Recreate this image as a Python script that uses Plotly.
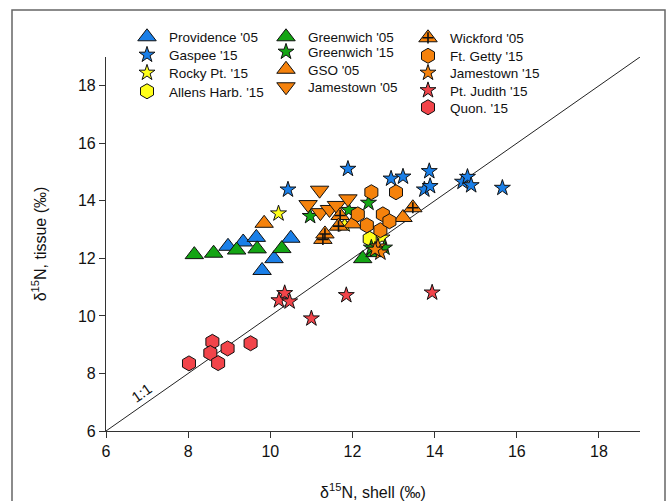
import plotly.graph_objects as go

# ---------------- data ----------------
providence05_x = [8.97, 9.34, 9.66, 9.80, 10.09, 10.50]
providence05_y = [12.42, 12.57, 12.73, 11.58, 11.99, 12.70]

gaspee15_x = [10.43, 11.89, 12.94, 13.23, 13.87, 13.75, 13.89, 14.68, 14.80, 14.89, 15.65]
gaspee15_y = [14.39, 15.11, 14.77, 14.84, 15.03, 14.39, 14.51, 14.66, 14.83, 14.54, 14.45]

rockypt15_x = [10.20, 11.81, 12.72]
rockypt15_y = [13.56, 13.18, 12.72]

allens15_x = [12.42]
allens15_y = [12.68]

greenwich05_x = [8.15, 8.62, 9.18, 9.68, 10.28, 12.25, 12.55]
greenwich05_y = [12.13, 12.18, 12.29, 12.33, 12.34, 11.99, 12.20]

greenwich15_x = [10.97, 11.91, 12.39, 12.46, 12.78]
greenwich15_y = [13.47, 13.68, 13.93, 12.37, 12.37]

gso05_x = [9.85, 12.00, 13.23]
gso05_y = [13.22, 13.20, 13.42]

jamestown05_x = [11.20, 10.92, 11.22, 11.44, 11.61, 11.89]
jamestown05_y = [14.37, 13.87, 13.59, 13.70, 13.84, 14.07]

wickford05_x = [11.70, 11.66, 11.28, 11.33, 13.47]
wickford05_y = [13.49, 13.12, 12.66, 12.85, 13.76]

ftgetty15_x = [12.46, 13.06, 12.13, 12.74, 12.35, 12.68, 12.90]
ftgetty15_y = [14.30, 14.30, 13.53, 13.53, 13.15, 12.98, 13.29]

jamestown15_x = [12.62, 12.68, 12.55]
jamestown15_y = [12.41, 12.20, 12.30]

ptjudith15_x = [10.35, 10.21, 10.47, 11.00, 11.85, 13.94]
ptjudith15_y = [10.79, 10.54, 10.50, 9.91, 10.72, 10.81]

quon15_x = [8.02, 8.59, 8.54, 8.73, 8.96, 9.52]
quon15_y = [8.35, 9.10, 8.71, 8.36, 8.87, 9.05]

one_to_one = [6, 19]
x_ticks = [6, 8, 10, 12, 14, 16, 18]
y_ticks = [6, 8, 10, 12, 14, 16, 18]

# ---------------- style ----------------
BLUE = "#1a7fe8"
GREEN = "#14a514"
ORANGE = "#f5820c"
YELLOW = "#ffff1a"
RED = "#f2444a"
FONT = "Liberation Sans, Arial, sans-serif"

W, H = 667, 501
ML, MR, MT, MB = 106, 27, 57, 70
PW, PH = W - ML - MR, H - MT - MB


def px_x(px):
    return (px - ML) / PW


def px_y(py):
    return (H - MB - py) / PH


SIZE = {"triangle-up": 16, "triangle-down": 16, "star": 12, "hexagon": 15, "cross-thin": 8}

fig = go.Figure()

# 1:1 line
fig.add_trace(go.Scatter(x=one_to_one, y=one_to_one, mode="lines",
                         line=dict(color="#222", width=1), showlegend=False,
                         hoverinfo="skip"))

# (name, x, y, symbol, color, legend px x of symbol, legend px y)
series = [
    ("Providence '05", providence05_x, providence05_y, "triangle-up", BLUE, 145, 37),
    ("Gaspee '15", gaspee15_x, gaspee15_y, "star", BLUE, 145, 55),
    ("Rocky Pt. '15", rockypt15_x, rockypt15_y, "star", YELLOW, 145, 73),
    ("Allens Harb. '15", allens15_x, allens15_y, "hexagon", YELLOW, 145, 91.5),
    ("Greenwich '05", greenwich05_x, greenwich05_y, "triangle-up", GREEN, 284, 37),
    ("Greenwich '15", greenwich15_x, greenwich15_y, "star", GREEN, 284, 52),
    ("GSO '05", gso05_x, gso05_y, "triangle-up", ORANGE, 284, 69.5),
    ("Jamestown '05", jamestown05_x, jamestown05_y, "triangle-down", ORANGE, 284, 87),
    ("Wickford '05", wickford05_x, wickford05_y, "triangle-up", ORANGE, 426, 38),
    ("Ft. Getty '15", ftgetty15_x, ftgetty15_y, "hexagon", ORANGE, 426, 56),
    ("Jamestown '15", jamestown15_x, jamestown15_y, "star", ORANGE, 426, 73),
    ("Pt. Judith '15", ptjudith15_x, ptjudith15_y, "star", RED, 426, 90.5),
    ("Quon. '15", quon15_x, quon15_y, "hexagon", RED, 426, 107.5),
]

legends = {}
n = 0
SYM_OFF = 20  # distance from legend left edge to symbol centre


def new_legend(sx, sy):
    global n
    n += 1
    key = "legend" if n == 1 else f"legend{n}"
    legends[key] = dict(
        x=px_x(sx - SYM_OFF), y=px_y(sy), xanchor="left", yanchor="middle",
        bgcolor="rgba(0,0,0,0)", borderwidth=0,
        font=dict(family=FONT, size=13.5, color="#111"),
        itemsizing="trace", itemwidth=34,
    )
    return key


for name, xs, ys, sym, col, lx, ly in series:
    key = new_legend(lx, ly)
    fig.add_trace(go.Scatter(
        x=xs, y=ys, mode="markers", name=name, legend=key,
        marker=dict(symbol=sym, size=SIZE[sym], color=col,
                    line=dict(color="#111", width=1)),
    ))
    if name == "Wickford '05":
        key2 = new_legend(lx, ly)
        fig.add_trace(go.Scatter(
            x=xs, y=ys, mode="markers", name=" ", legend=key2,
            marker=dict(symbol="cross-thin", size=SIZE["cross-thin"],
                        color="#111", line=dict(color="#111", width=1.6)),
        ))

fig.update_layout(**legends)

axis_common = dict(
    showline=True, linecolor="#333", linewidth=1.2, mirror=False,
    ticks="outside", ticklen=6, tickwidth=1, tickcolor="#333",
    showgrid=False, zeroline=False, automargin=False,
    tickfont=dict(family=FONT, size=16, color="#111"),
)

fig.update_xaxes(range=[6, 19], tickvals=x_ticks, **axis_common,
                 title=dict(text="δ<sup>15</sup>N, shell (‰)",
                            font=dict(family=FONT, size=16, color="#111"),
                            standoff=30))
fig.update_yaxes(range=[6, 19], tickvals=y_ticks, **axis_common,
                 title=dict(text="δ<sup>15</sup>N, tissue (‰)",
                            font=dict(family=FONT, size=16, color="#111"),
                            standoff=27))

fig.add_annotation(x=6.87, y=7.34, text="1:1", showarrow=False,
                   textangle=-35, font=dict(family=FONT, size=15, color="#111"))

# outer frame
fig.add_shape(type="rect", xref="paper", yref="paper",
              x0=px_x(12), x1=px_x(665), y0=px_y(540), y1=px_y(10),
              line=dict(color="#666", width=1.5), fillcolor="rgba(0,0,0,0)",
              layer="below")

fig.update_layout(
    width=W, height=H,
    margin=dict(l=ML, r=MR, t=MT, b=MB, pad=0, autoexpand=False),
    paper_bgcolor="white", plot_bgcolor="white",
    font=dict(family=FONT, color="#111"),
    showlegend=True,
)

fig.write_html(
    "out.html",
    config={"displayModeBar": False},
    post_script="document.body.style.margin='0';document.body.style.overflow='hidden';",
)
